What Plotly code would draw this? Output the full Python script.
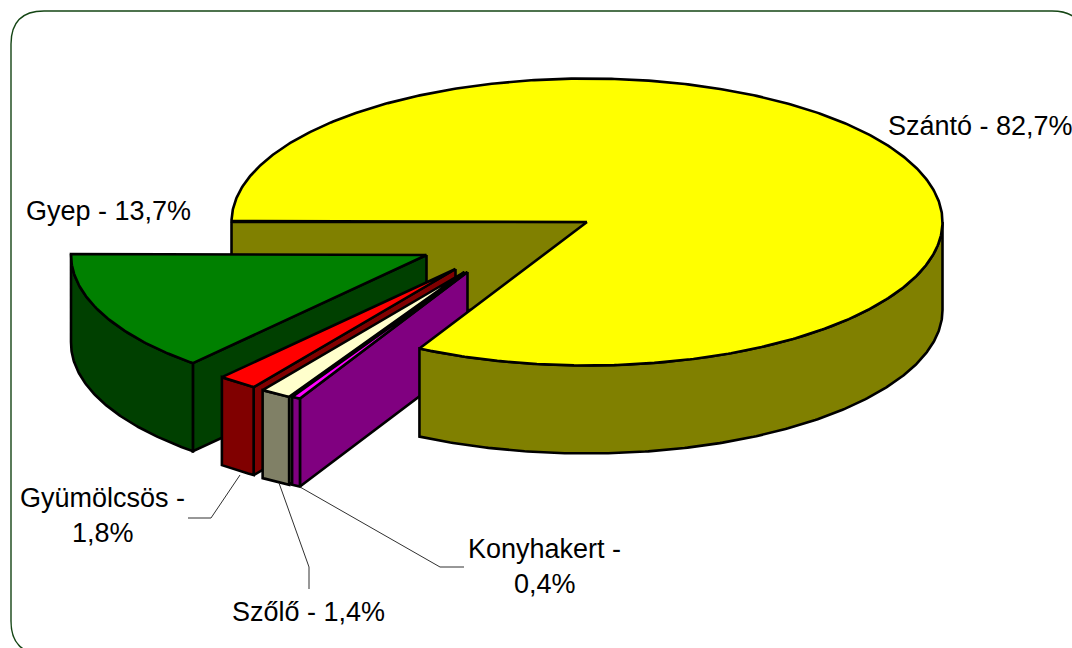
import numpy as np
import plotly.graph_objects as go

# ---- data ----
names = ["Szántó", "Konyhakert", "Szőlő", "Gyümölcsös", "Gyep"]
shares = [82.7, 0.4, 1.4, 1.8, 13.7]

# ---- styles ----
top_colors = ["#FFFF00", "#FF00FF", "#FFFFCC", "#FF0000", "#008000"]
side_colors = ["#808000", "#800080", "#808066", "#800000", "#004000"]
border_color = "#144514"
leader_color = "#303030"

# ---- pie geometry in page pixels ----
CX, CY = 587, 222
RX, RY = 355.5, 143.5
DEPTH = 88
START = 180.4
OFFSETS = [(0, 0), (-119.5, 50), (-122.5, 50), (-131.5, 47), (-160.5, 33)]
FONT_SIZE = 27
OUTLINE = 2.6

label_spots = {
    "Szántó": [(980, 126)],
    "Gyep": [(108, 211)],
    "Gyümölcsös": [(102, 498), (103, 533)],
    "Szőlő": [(308, 612)],
    "Konyhakert": [(544, 549), (545, 584)],
}
leader_paths = {
    "Gyümölcsös": ([240, 211, 188], [475, 518, 518]),
    "Szőlő": ([279, 309, 309], [483, 567, 589]),
    "Konyhakert": ([300, 440, 464], [487, 567, 567]),
}


def arc(t0, t1, ox=0, oy=0, dz=0):
    n = max(2, int(abs(t1 - t0) * 2) + 1)
    t = np.radians(np.linspace(t0, t1, n))
    return CX + ox + RX * np.cos(t), CY + oy + dz + RY * np.sin(t)


def poly(fig, xs, ys, color):
    xs = np.r_[xs, xs[0]]
    ys = np.r_[ys, ys[0]]
    fig.add_trace(go.Scatter(
        x=xs, y=ys, mode="lines", fill="toself", fillcolor=color,
        line=dict(color="black", width=OUTLINE), hoverinfo="skip", showlegend=False,
    ))


def draw_slice(fig, i, t0, t1):
    """Draw a slice spanning ellipse parameters t0 → t1 (t0 larger, in degrees)."""
    ox, oy = OFFSETS[i]
    ax, ay = CX + ox, CY + oy
    # cut face on the viewer's side
    px = CX + ox + RX * np.cos(np.radians(t1))
    py = CY + oy + RY * np.sin(np.radians(t1))
    poly(fig, [ax, px, px, ax], [ay, py, py + DEPTH, ay + DEPTH], side_colors[i])
    # rim
    x, y = arc(t1, t0, ox, oy)
    xb, yb = arc(t1, t0, ox, oy, DEPTH)
    poly(fig, np.r_[x, xb[::-1]], np.r_[y, yb[::-1]], side_colors[i])
    # top
    poly(fig, np.r_[ax, x], np.r_[ay, y], top_colors[i])


fig = go.Figure()

# angular extents from the shares
fracs = np.array(shares) / sum(shares) * 360
edges = START + np.r_[0, np.cumsum(fracs)]

# back cut face of the main slice
lx = CX + RX * np.cos(np.radians(START))
poly(fig, [lx, CX, CX, lx], [CY, CY, CY + DEPTH, CY + DEPTH], side_colors[0])

# exploded slices, far to near
for i in [4, 3, 2, 1]:
    draw_slice(fig, i, edges[i + 1] - 360, edges[i] - 360)

# main slice: visible rim then top
xr, yr = arc(360, edges[1])
xrb, yrb = arc(360, edges[1], dz=DEPTH)
poly(fig, np.r_[xr, xrb[::-1]], np.r_[yr, yrb[::-1]], side_colors[0])
xt, yt = arc(edges[0], edges[1])
poly(fig, np.r_[CX, xt], np.r_[CY, yt], top_colors[0])

# leaders
for nm, (lx_, ly_) in leader_paths.items():
    fig.add_trace(go.Scatter(x=lx_, y=ly_, mode="lines",
                             line=dict(color=leader_color, width=1),
                             hoverinfo="skip", showlegend=False))

# labels
for nm, val in zip(names, shares):
    txt = f"{val:.1f}%".replace(".", ",")
    spots = label_spots[nm]
    parts = [f"{nm} - {txt}"] if len(spots) == 1 else [f"{nm} -", txt]
    for (x, y), part in zip(spots, parts):
        fig.add_annotation(x=x, y=y, text=part, showarrow=False, xanchor="center",
                           yanchor="middle", font=dict(size=FONT_SIZE, color="black"))

# rounded frame
L, T, R_, B, r = 11, 11, 1085, 654, 33
frame = (f"M {L+r} {T} L {R_-r} {T} Q {R_} {T} {R_} {T+r} L {R_} {B-r} "
         f"Q {R_} {B} {R_-r} {B} L {L+r} {B} Q {L} {B} {L} {B-r} L {L} {T+r} Q {L} {T} {L+r} {T} Z")
fig.add_shape(type="path", path=frame, xref="x", yref="y", layer="below",
              line=dict(color=border_color, width=1.4))

fig.update_layout(
    width=1072, height=648, margin=dict(l=0, r=0, t=0, b=0),
    paper_bgcolor="white", plot_bgcolor="white", showlegend=False,
    font=dict(family="Liberation Sans, Arial, sans-serif"),
    xaxis=dict(range=[0, 1072], visible=False, fixedrange=True),
    yaxis=dict(range=[648, 0], visible=False, fixedrange=True),
)
fig.write_html("out.html", config={"displayModeBar": False},
               post_script="document.body.style.margin='0';document.body.style.overflow='hidden';")
